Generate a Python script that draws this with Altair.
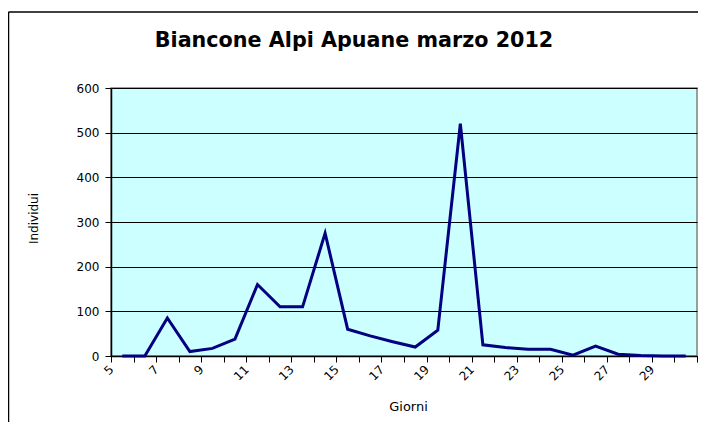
import altair as alt
import pandas as pd

# --- data -------------------------------------------------------------------
days = list(range(5, 31))
individui = [0, 0, 85, 10, 17, 38, 160, 110, 110, 275,
             60, 45, 32, 20, 58, 520, 25, 19, 15, 15,
             2, 22, 4, 1, 0, 0]
x_tick_labels = [5, 7, 9, 11, 13, 15, 17, 19, 21, 23, 25, 27, 29]
y_ticks = [0, 100, 200, 300, 400, 500, 600]

title_text = "Biancone Alpi Apuane marzo 2012"
x_title = "Giorni"
y_title = "Individui"

df = pd.DataFrame({"giorno": days, "individui": individui})

# category boundaries (ticks between days)
boundaries = [d - 0.5 for d in days] + [days[-1] + 0.5]
label_list = ",".join(str(v) for v in x_tick_labels)
label_expr = (
    f"indexof([{label_list}], datum.value + 0.5) >= 0 ? "
    "format(datum.value + 0.5, 'd') : ''"
)

W, H = 586, 268

line = alt.Chart(df).mark_line(color="#000080", strokeWidth=3, strokeJoin="miter").encode(
    x=alt.X(
        "giorno:Q",
        scale=alt.Scale(domain=[boundaries[0], boundaries[-1]], nice=False, zero=False),
        axis=alt.Axis(
            values=boundaries,
            labelExpr=label_expr,
            labelAngle=-45,
            labelAlign="right",
            labelBaseline="middle",
            labelOverlap=False,
            labelFlush=False,
            labelPadding=5,
            labelFont="DejaVu Sans",
            labelFontSize=12,
            labelColor="black",
            tickSize=6,
            tickColor="black",
            domainColor="black",
            domainWidth=1.5,
            grid=False,
            title=x_title,
            titleFont="DejaVu Sans",
            titleFontSize=13,
            titleFontWeight="normal",
            titleColor="black",
            titleX=297,
            titleY=50,
            titleBaseline="middle",
        ),
    ),
    y=alt.Y(
        "individui:Q",
        scale=alt.Scale(domain=[0, 600], nice=False),
        axis=alt.Axis(
            values=y_ticks,
            format="d",
            labelFont="DejaVu Sans",
            labelFontSize=12,
            labelColor="black",
            labelPadding=6,
            tickSize=6,
            tickColor="black",
            domainColor="black",
            domainWidth=1.5,
            grid=True,
            gridColor="black",
            gridWidth=1,
            title=y_title,
            titleFont="DejaVu Sans",
            titleFontSize=12,
            titleFontWeight="normal",
            titleColor="black",
            titleX=-78,
            titleY=130,
            titleBaseline="middle",
        ),
    ),
)

# outer frame of the chart box (decoration, left and top edges)
frame_left = alt.Chart(alt.Data(values=[{}])).mark_rule(color="black", strokeWidth=1.5).encode(
    x=alt.value(-102.5), y=alt.value(-76), y2=alt.value(342)
)
frame_top = alt.Chart(alt.Data(values=[{}])).mark_rule(color="black", strokeWidth=1.5).encode(
    x=alt.value(-102.5), x2=alt.value(595), y=alt.value(-76)
)

chart = (
    alt.layer(line, frame_left, frame_top)
    .properties(
        width=W,
        height=H,
        title=alt.TitleParams(
            text=title_text,
            font="DejaVu Sans",
            fontSize=20.7,
            fontWeight="bold",
            color="black",
            anchor="middle",
            frame="group",
            dx=-50,
            offset=-56,
            baseline="alphabetic",
        ),
        autosize=alt.AutoSizeParams(type="none"),
        padding={"left": 103, "top": 80, "right": 1, "bottom": 66},
        background="white",
    )
    .configure_view(fill="#CCFFFF", stroke="#808080", strokeWidth=1.5)
)

chart.save("out.html", embed_options={"renderer": "svg", "actions": False})
